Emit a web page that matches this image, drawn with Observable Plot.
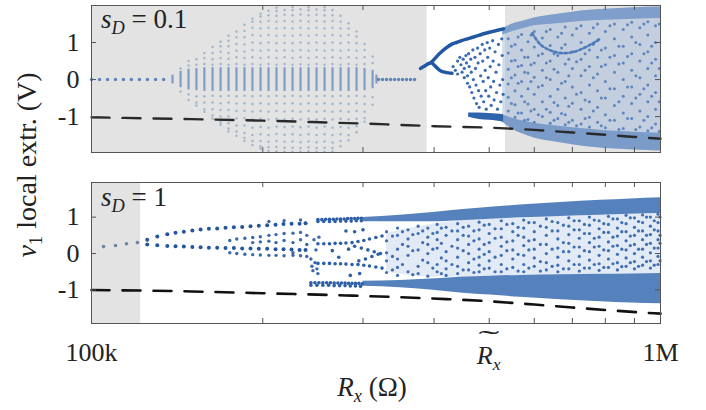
<!DOCTYPE html>
<html><head><meta charset="utf-8">
<script src="https://cdn.jsdelivr.net/npm/d3@7"></script>
<script src="https://cdn.jsdelivr.net/npm/@observablehq/plot@0.6"></script>
<style>
body{margin:0;background:#fff;}
#fig{position:relative;width:706px;height:410px;overflow:hidden;font-family:"Liberation Serif",serif;color:#222;}
#fig svg{position:absolute;left:0;background:transparent;}
.t{position:absolute;white-space:nowrap;line-height:1;}
.sub{font-size:0.68em;position:relative;top:0.32em;}
.tilde{position:relative;display:inline-block;}
.tilde::before{content:"\02DC";position:absolute;left:0;right:0;top:-0.62em;text-align:center;transform:scaleX(2.4);}
</style></head><body><div id="fig"></div>
<script>
// ---------- axes / layout data (x in kΩ, y in V) ----------
const xDomain = [100, 1000];
const xMinorTicks = [200, 300, 400, 500, 600, 700, 800, 900];
const xLabelTicks = [100, 1000];
const xLabelText = ["100k", "1M"];
const yTicks = [-1, 0, 1];
const p1YDomain = [-1.97, 2.0];
const p2YDomain = [-1.92, 1.95];
const p1GrayRegions = [[100, 389], [534, 1000]];
const p2GrayRegions = [[100, 122]];

// ---------- dashed reference curves ----------
const p1DashX = [100, 150, 200, 260, 330, 400, 500, 600, 700, 800, 900, 1000];
const p1DashY = [-1.02, -1.07, -1.11, -1.16, -1.21, -1.26, -1.30, -1.36, -1.43, -1.49, -1.55, -1.60];
const p2DashX = [100, 150, 200, 280, 350, 420, 500, 600, 700, 800, 1000];
const p2DashY = [-1.0, -1.04, -1.09, -1.15, -1.2, -1.25, -1.31, -1.4, -1.48, -1.55, -1.65];

// ---------- panel 1 (s_D = 0.1) ----------
const p1ZeroX = [100.0, 103.3, 106.7, 110.2, 113.8, 117.5, 121.4, 125.4, 129.6, 133.9,
                 319.4, 324.6, 330.0, 335.4, 340.9, 346.4, 352.1, 357.8, 363.6, 369.6];
const p1BarX = [138.8, 143.4, 148.1, 152.9, 157.9, 163.2, 168.6, 174.1, 179.8, 185.7, 191.8, 198.2, 204.7,
                211.4, 218.4, 225.6, 233.0, 240.7, 248.6, 256.8, 265.2, 274.0, 283.0, 292.3, 301.9, 311.9, 316.8];
const p1BarHalf = [0.12, 0.22, 0.28, 0.3, 0.32, 0.32, 0.32, 0.32, 0.32, 0.32, 0.32, 0.32, 0.32,
                   0.32, 0.32, 0.32, 0.32, 0.32, 0.32, 0.32, 0.32, 0.32, 0.32, 0.32, 0.3, 0.25, 0.12];
const p1LensX = [143.4, 148.1, 152.9, 157.9, 163.2, 168.6, 174.1, 179.8, 185.7, 191.8, 198.2, 204.7,
                 211.4, 218.4, 225.6, 233.0, 240.7, 248.6, 256.8, 265.2, 274.0, 283.0, 292.3, 301.9, 311.9];
const p1LensY = [
  [0.3, -0.32],
  [0.38, 0.5, -0.4, -0.55],
  [0.4, 0.55, -0.45, -0.62, -0.7],
  [0.42, 0.58, 0.72, -0.45, -0.62, -0.8, -0.87],
  [0.4, 0.55, 0.72, 0.88, -0.44, -0.62, -0.8, -0.97, -1.05],
  [0.42, 0.58, 0.75, 0.9, 1.02, -0.45, -0.64, -0.82, -1.0, -1.15, -1.22],
  [0.4, 0.56, 0.72, 0.9, 1.05, 1.18, -0.44, -0.62, -0.82, -1.0, -1.18, -1.32, -1.4],
  [0.42, 0.6, 0.78, 0.96, 1.14, 1.3, -0.45, -0.65, -0.85, -1.05, -1.24, -1.4, -1.52],
  [0.4, 0.58, 0.76, 0.95, 1.14, 1.32, 1.48, -0.44, -0.64, -0.84, -1.04, -1.24, -1.44, -1.58, -1.66],
  [0.42, 0.6, 0.8, 1.0, 1.2, 1.4, 1.56, 1.64, -0.45, -0.66, -0.86, -1.08, -1.3, -1.5, -1.66, -1.77],
  [0.4, 0.58, 0.78, 0.98, 1.18, 1.38, 1.56, 1.7, 1.78, -0.44, -0.64, -0.85, -1.06, -1.28, -1.48, -1.66, -1.8, -1.87],
  [0.42, 0.6, 0.8, 1.0, 1.2, 1.4, 1.58, 1.74, 1.86, -0.45, -0.66, -0.87, -1.08, -1.3, -1.5, -1.68, -1.83, -1.93],
  [0.4, 0.58, 0.78, 0.98, 1.18, 1.38, 1.56, 1.72, 1.85, 1.94, -0.44, -0.64, -0.85, -1.06, -1.27, -1.47, -1.66, -1.82, -1.94],
  [0.42, 0.6, 0.79, 0.99, 1.19, 1.39, 1.58, 1.75, 1.88, -0.45, -0.65, -0.86, -1.07, -1.28, -1.49, -1.68, -1.84, -1.95],
  [0.4, 0.58, 0.78, 0.98, 1.18, 1.38, 1.57, 1.74, 1.88, 1.96, -0.44, -0.64, -0.85, -1.06, -1.27, -1.48, -1.67, -1.84, -1.95],
  [0.41, 0.6, 0.8, 1.0, 1.2, 1.4, 1.59, 1.76, 1.9, -0.45, -0.66, -0.87, -1.08, -1.29, -1.5, -1.69, -1.85, -1.95],
  [0.4, 0.58, 0.78, 0.98, 1.18, 1.38, 1.57, 1.74, 1.87, 1.95, -0.44, -0.64, -0.85, -1.06, -1.27, -1.48, -1.67, -1.83, -1.94],
  [0.42, 0.6, 0.8, 1.0, 1.2, 1.4, 1.58, 1.75, 1.89, -0.45, -0.66, -0.87, -1.08, -1.3, -1.5, -1.69, -1.85, -1.95],
  [0.4, 0.58, 0.78, 0.98, 1.18, 1.38, 1.57, 1.73, 1.87, 1.95, -0.44, -0.64, -0.85, -1.06, -1.27, -1.48, -1.67, -1.84, -1.95],
  [0.42, 0.6, 0.8, 1.0, 1.2, 1.4, 1.58, 1.74, 1.88, -0.45, -0.66, -0.87, -1.08, -1.3, -1.5, -1.7, -1.85, -1.94],
  [0.4, 0.58, 0.78, 0.98, 1.18, 1.38, 1.56, 1.72, -0.44, -0.64, -0.85, -1.06, -1.28, -1.48, -1.66, -1.8],
  [0.42, 0.6, 0.8, 1.0, 1.2, 1.38, 1.52, -0.45, -0.66, -0.87, -1.08, -1.3, -1.5, -1.64],
  [0.4, 0.58, 0.78, 0.98, 1.16, 1.3, -0.44, -0.64, -0.85, -1.06, -1.26, -1.42],
  [0.42, 0.6, 0.8, 0.96, -0.45, -0.66, -0.87, -1.04, -1.14],
  [0.45, 0.62, -0.48, -0.68]
];
const p1ArmUpperX = [378.6, 383.6, 388.0, 392.6, 395.8, 404.1, 412.2, 420.7, 429.2, 438.0, 446.9, 457.9, 469.3, 480.8, 492.6, 504.6, 517.1, 529.8];
const p1ArmUpperY = [0.3, 0.35, 0.4, 0.44, 0.47, 0.62, 0.75, 0.86, 0.95, 1.0, 1.05, 1.1, 1.15, 1.2, 1.25, 1.29, 1.33, 1.37];
const p1ArmLowerX = [395.8, 400.8, 405.8, 410.5, 417.4, 424.3, 430.0];
const p1ArmLowerY = [0.47, 0.38, 0.3, 0.24, 0.2, 0.18, 0.17];
const p1WhiteScatter = [[432,0.35],[436,0.25],[440,0.5],[440,0.15],[444,0.6],[446,0.4],[448,0.2],[450,0.55],[452,0.3],[452,0.05],
  [455,0.65],[456,0.45],[458,0.1],[458,-0.1],[460,0.7],[461,0.35],[462,-0.2],[464,0.55],[465,0.2],[466,-0.35],[468,0.8],[469,0.0],
  [470,-0.5],[472,0.6],[473,0.3],[474,-0.15],[475,-0.65],[477,0.85],[478,0.45],[479,-0.3],[480,-0.75],[482,0.7],[483,0.1],[484,-0.45],
  [486,0.95],[487,0.5],[488,-0.05],[489,-0.6],[491,0.8],[492,0.25],[493,-0.3],[494,-0.8],[496,1.0],[497,0.6],[498,0.05],[499,-0.45],
  [501,0.85],[502,0.35],[503,-0.2],[504,-0.7],[507,1.05],[508,0.5],[509,-0.05],[510,-0.55],[512,0.75],[514,0.2],[515,-0.35],[517,-0.8],
  [519,0.95],[520,0.4],[522,-0.15],[524,-0.6],[526,1.1],[527,0.65],[528,0.0],[529,-0.4]];
const p1BlobX = [460, 480, 500, 515, 530];
const p1BlobTop = [-0.9, -0.9, -0.92, -0.93, -0.95];
const p1BlobBottom = [-1.02, -1.08, -1.1, -1.12, -1.15];
const p1EnvX = [528, 550, 575, 600, 650, 700, 750, 800, 900, 1000];
const p1EnvTop = [1.37, 1.5, 1.58, 1.66, 1.75, 1.82, 1.87, 1.9, 1.94, 1.96];
const p1EnvBottom = [-1.15, -1.35, -1.48, -1.58, -1.68, -1.76, -1.82, -1.86, -1.9, -1.93];
const p1EnvTopInner = [1.2, 1.3, 1.38, 1.45, 1.5, 1.55, 1.58, 1.6, 1.63, 1.65];
const p1EnvBottomInner = [-0.95, -1.05, -1.12, -1.18, -1.25, -1.3, -1.34, -1.38, -1.42, -1.45];
const p1ChaosX = [540, 555, 570, 585, 600, 620, 640, 660, 680, 700, 725, 750, 775, 800, 830, 860, 890, 920, 950, 980];
const p1ChaosY = [
  [1.1, 0.72, 0.28, -0.12, -0.48, -0.85], [0.95, 0.52, 0.12, -0.3, -0.68, -1.02],
  [1.22, 0.8, 0.38, -0.05, -0.45, -0.9], [1.02, 0.6, 0.18, -0.25, -0.66, -1.08],
  [1.3, 0.88, 0.45, 0.06, -0.4, -0.8, -1.15], [1.12, 0.7, 0.25, -0.16, -0.6, -1.0],
  [1.35, 0.92, 0.5, 0.0, -0.45, -0.88, -1.18], [1.15, 0.65, 0.2, -0.26, -0.7, -1.05],
  [1.42, 0.95, 0.42, -0.05, -0.5, -0.95, -1.22], [1.2, 0.75, 0.3, -0.2, -0.64, -1.1],
  [1.45, 1.0, 0.55, 0.1, -0.35, -0.8, -1.2], [1.25, 0.8, 0.35, -0.15, -0.6, -1.02, -1.28],
  [1.5, 1.05, 0.6, 0.15, -0.3, -0.75, -1.15], [1.3, 0.85, 0.4, -0.05, -0.5, -0.95, -1.3],
  [1.5, 1.1, 0.65, 0.2, -0.25, -0.7, -1.1], [1.35, 0.9, 0.45, 0.0, -0.45, -0.9, -1.32],
  [1.55, 1.15, 0.7, 0.25, -0.2, -0.65, -1.05], [1.4, 0.95, 0.5, 0.05, -0.4, -0.85, -1.28],
  [1.56, 1.2, 0.75, 0.3, -0.15, -0.6, -1.0, -1.38], [1.45, 1.0, 0.55, 0.1, -0.35, -0.8, -1.2]
];
const p1Chaos2X = [547, 562, 577, 592, 610, 630, 650, 670, 690, 712, 737, 762, 787, 815, 845, 875, 905, 935, 965, 995];
const p1Chaos2Y = [
  [0.9, 0.5, 0.05, -0.65], [1.15, 0.35, -0.1, -0.9], [0.6, 0.2, -0.6, -1.1], [1.2, 0.4, -0.05, -0.85],
  [0.65, -0.2, -0.95], [1.3, 0.45, 0.05, -0.8], [0.7, 0.28, -0.62, -1.1], [1.25, 0.85, -0.1, -0.92],
  [0.55, 0.1, -0.72, -1.15], [1.38, 0.48, -0.4, -1.25], [0.7, 0.25, -0.55, -1.05], [1.4, 0.95, 0.05, -0.85],
  [0.8, 0.35, -0.5, -1.25], [1.45, 0.6, -0.25, -1.1], [0.9, 0.42, -0.6, -1.35], [1.48, 0.62, -0.2, -1.05],
  [1.0, 0.1, -0.5, -1.35], [1.5, 0.7, -0.25, -1.1], [0.9, 0.45, -0.45, -1.3], [1.5, 0.3, -0.6, -1.4]
];
const p1LoopX = [595, 605, 615, 628, 645, 665, 690, 715, 740, 765, 785];
const p1LoopY = [1.25, 1.08, 0.95, 0.85, 0.77, 0.72, 0.72, 0.78, 0.88, 1.0, 1.12];

// ---------- panel 2 (s_D = 1) ----------
const p2SingleX = [105.0, 110.2, 115.2, 120.4];
const p2SingleY = [0.19, 0.22, 0.27, 0.30];
const p2UpperX = [125.3, 130.5, 135.9, 140.5, 145.3, 150.4, 155.5, 160.8, 166.3, 172.0, 177.9, 184.0, 190.3, 196.8, 203.6, 210.6, 217.5, 224.7, 232.1, 237.8];
const p2UpperY = [0.38, 0.47, 0.53, 0.57, 0.6, 0.63, 0.66, 0.68, 0.69, 0.71, 0.72, 0.73, 0.75, 0.76, 0.78, 0.79, 0.81, 0.82, 0.82, 0.83];
const p2LowerY = [0.25, 0.23, 0.21, 0.2, 0.19, 0.18, 0.17, 0.16, 0.16, 0.15, 0.15, 0.14, 0.14, 0.13, 0.13, 0.12, 0.12, 0.11, 0.1, 0.1];
const p2Period4 = [[175,0.36],[175,0.02],[180,0.4],[180,0.0],[186,0.42],[186,-0.02],[192,0.44],[192,-0.03],[192,0.3],
  [198,0.46],[198,-0.04],[198,0.32],[205,0.5],[205,-0.05],[205,0.34],[205,0.88],[211,0.52],[211,-0.05],[211,0.3],
  [218,0.55],[218,-0.06],[218,0.36],[218,0.9],[226,0.56],[226,-0.05],[226,0.3],[226,0.02],[233,0.58],[233,-0.06],
  [233,0.38],[233,0.92],[239,0.5],[239,-0.08],[239,0.25],
  [243,-0.15],[244,-0.35],[245,-0.47],[246,0.38],[247,-0.25],[248,0.1],[249,-0.42],[250,-0.55],[251,0.45]];
const p2BandsEarly = [[250,0.93],[254,0.93],[258,0.94],[262,0.94],[266,0.94],[270,0.95],[274,0.95],[278,0.95],[282,0.96],[286,0.96],[290,0.96],[294,0.97],[298,0.97],
  [250,0.88],[256,0.88],[262,0.88],[268,0.88],[274,0.89],[280,0.89],[286,0.89],[292,0.9],[298,0.9],
  [243,-0.8],[247,-0.8],[251,-0.8],[255,-0.8],[259,-0.8],[263,-0.8],[267,-0.81],[271,-0.81],[275,-0.81],[279,-0.81],[283,-0.82],[287,-0.82],[291,-0.82],[295,-0.82],[299,-0.83],
  [243,-0.87],[249,-0.87],[255,-0.87],[261,-0.87],[267,-0.88],[273,-0.88],[279,-0.88],[285,-0.89],[291,-0.89],[297,-0.9],
  [250,0.27],[256,0.27],[262,0.27],[268,0.28],[274,0.28],[280,0.29],[287,0.3],[294,0.33],[301,0.36],[308,0.4],[316,0.44],[324,0.48],
  [250,-0.27],[256,-0.27],[262,-0.27],[268,-0.28],[274,-0.28],[280,-0.29],[287,-0.3],[294,-0.3],[301,-0.32],[308,-0.34],[316,-0.37],[324,-0.4],
  [290,0.2],[298,0.15],[306,0.1],[314,0.05],[322,0.0],[295,-0.2],[303,-0.15],[311,-0.08],[319,-0.02],
  [280,0.62],[290,0.6],[300,0.65],[285,-0.6],[296,-0.55],[265,0.08],[272,-0.1],[283,0.12]];
const p2TopBandX = [300, 349, 394, 445, 503, 567, 667, 785, 886, 1000];
const p2TopBandTop = [0.99, 1.05, 1.12, 1.2, 1.27, 1.33, 1.4, 1.46, 1.5, 1.53];
const p2TopBandBottom = [0.87, 0.87, 0.87, 0.9, 0.94, 0.98, 1.02, 1.05, 1.08, 1.1];
const p2BotBandX = [300, 349, 394, 445, 503, 567, 667, 785, 886, 1000];
const p2BotBandTop = [-0.76, -0.74, -0.7, -0.65, -0.62, -0.6, -0.58, -0.57, -0.56, -0.55];
const p2BotBandBottom = [-0.9, -0.94, -1.0, -1.08, -1.14, -1.2, -1.27, -1.32, -1.36, -1.38];
const p2MidX = [330, 394, 445, 503, 567, 667, 785, 886, 1000];
const p2MidTop = [0.55, 0.8, 0.9, 0.94, 0.98, 1.02, 1.05, 1.08, 1.1];
const p2MidBottom = [-0.5, -0.65, -0.65, -0.62, -0.6, -0.58, -0.57, -0.56, -0.55];
const p2ChaosX = [330, 345, 360, 375, 390, 405, 420, 440, 460, 480, 500, 525, 550, 575, 600, 630, 660, 690, 720, 750, 780, 810, 840, 870, 900, 930, 960, 990];
const p2ChaosY = [
  [0.6, 0.35, 0.02, -0.2, -0.52], [0.7, 0.5, 0.12, -0.15, -0.38, -0.6], [0.65, 0.4, 0.2, -0.05, -0.5],
  [0.75, 0.55, 0.1, -0.35, -0.55], [0.7, 0.45, 0.25, 0.0, -0.25, -0.62], [0.8, 0.58, 0.38, 0.15, -0.3, -0.5],
  [0.72, 0.5, 0.05, -0.2, -0.42, -0.6], [0.82, 0.62, 0.38, 0.15, -0.1, -0.35, -0.55], [0.75, 0.48, 0.25, 0.0, -0.25, -0.45],
  [0.86, 0.65, 0.4, 0.12, -0.1, -0.32, -0.5], [0.8, 0.55, 0.3, 0.05, -0.2, -0.4], [0.9, 0.68, 0.45, 0.2, -0.05, -0.3, -0.5],
  [0.82, 0.6, 0.35, 0.1, -0.15, -0.38], [0.92, 0.7, 0.45, 0.22, -0.05, -0.3, -0.5], [0.85, 0.6, 0.38, 0.12, -0.12, -0.35],
  [0.95, 0.72, 0.5, 0.25, 0.0, -0.25, -0.45], [0.85, 0.62, 0.4, 0.15, -0.1, -0.32, -0.5], [0.98, 0.75, 0.52, 0.28, 0.05, -0.2, -0.42],
  [0.9, 0.65, 0.42, 0.18, -0.08, -0.3, -0.48], [1.0, 0.78, 0.55, 0.3, 0.05, -0.18, -0.4], [0.9, 0.68, 0.45, 0.2, -0.05, -0.28, -0.46],
  [1.02, 0.8, 0.58, 0.32, 0.08, -0.15, -0.38], [0.95, 0.7, 0.48, 0.22, -0.02, -0.25, -0.45], [1.05, 0.82, 0.6, 0.35, 0.1, -0.12, -0.35],
  [0.98, 0.72, 0.5, 0.25, 0.0, -0.22, -0.42], [1.06, 0.85, 0.62, 0.38, 0.12, -0.1, -0.32], [1.0, 0.75, 0.52, 0.28, 0.02, -0.2, -0.4],
  [1.08, 0.85, 0.62, 0.38, 0.15, -0.08, -0.3]
];
const p2Chaos2X = [338, 352, 367, 382, 398, 412, 430, 450, 470, 490, 512, 537, 562, 587, 615, 645, 675, 705, 735, 765, 795, 825, 855, 885, 915, 945, 975, 998];
const p2Chaos2Y = [
  [0.48, -0.08, -0.45], [0.6, 0.25, -0.3], [0.52, 0.08, -0.58], [0.62, 0.3, -0.18], [0.55, 0.12, -0.4],
  [0.7, 0.28, -0.12, -0.55], [0.62, 0.2, -0.3], [0.72, 0.5, 0.08, -0.45], [0.62, 0.35, -0.15, -0.52], [0.78, 0.25, -0.02, -0.42],
  [0.68, 0.42, -0.1, -0.5], [0.8, 0.32, 0.08, -0.42], [0.72, 0.5, -0.02, -0.48], [0.85, 0.35, 0.1, -0.4], [0.75, 0.25, -0.22, -0.48],
  [0.88, 0.62, 0.12, -0.35], [0.78, 0.3, 0.05, -0.42], [0.9, 0.65, 0.18, -0.3], [0.8, 0.55, 0.08, -0.4], [0.92, 0.42, 0.18, -0.3],
  [0.82, 0.58, 0.1, -0.38], [0.95, 0.45, 0.2, -0.28], [0.85, 0.6, 0.12, -0.36], [0.98, 0.48, 0.22, -0.25], [0.88, 0.62, 0.12, -0.35],
  [1.0, 0.5, 0.25, -0.22], [0.9, 0.65, 0.15, -0.32], [1.0, 0.5, 0.28, -0.2]
];

// ---------- build tables ----------
const zip = (xs, ys) => xs.map((x, i) => ({x, y: ys[i]}));
const cols = (xs, yss) => xs.flatMap((x, i) => yss[i].map(y => ({x, y})));
const pairs = (ps) => ps.map(([x, y]) => ({x, y}));
const band = (xs, a, b) => xs.map((x, i) => ({x, y1: a[i], y2: b[i]}));

const W = 706, ML = 91, MR = 46;
const innerW = W - ML - MR;
const font = "Liberation Serif";

function frameMarks(yDomain, gray, innerH) {
  return {
    under: [Plot.rect(gray, {x1: d => d[0], x2: d => d[1], y1: yDomain[0], y2: yDomain[1], fill: "#e3e3e3"})],
    over: [
      Plot.tickX(xMinorTicks, {x: d => d, insetBottom: innerH - 5, stroke: "#555"}),
      Plot.tickX(xMinorTicks, {x: d => d, insetTop: innerH - 5, stroke: "#555"}),
      Plot.tickY(yTicks, {y: d => d, insetRight: innerW - 5, stroke: "#555"}),
      Plot.tickY(yTicks, {y: d => d, insetLeft: innerW - 5, stroke: "#555"}),
      Plot.axisY(yTicks, {tickSize: 0, tickPadding: 12, fontSize: 26, label: null, tickFormat: d => d < 0 ? "-" + Math.abs(d) : String(d)}),
      Plot.frame({stroke: "#555", strokeWidth: 1})
    ]
  };
}

// Panel 1
const h1 = 160, mt1 = 5, mb1 = 8;
const f1 = frameMarks(p1YDomain, p1GrayRegions, h1 - mt1 - mb1);
const plot1 = Plot.plot({
  width: W, height: h1, marginLeft: ML, marginRight: MR, marginTop: mt1, marginBottom: mb1,
  x: {type: "log", domain: xDomain, axis: null, label: null},
  y: {domain: p1YDomain, label: null},
  style: {fontFamily: font, background: "transparent", color: "#222"},
  marks: [
    ...f1.under,
    Plot.areaY(band(p1EnvX, p1EnvTop, p1EnvBottom), {x: "x", y1: "y1", y2: "y2", fill: "#a9bedb", fillOpacity: 0.55, curve: "monotone-x"}),
    Plot.areaY(band(p1EnvX, p1EnvTop, p1EnvTopInner), {x: "x", y1: "y1", y2: "y2", fill: "#6e92c5", fillOpacity: 0.8, curve: "monotone-x"}),
    Plot.areaY(band(p1EnvX, p1EnvBottomInner, p1EnvBottom), {x: "x", y1: "y1", y2: "y2", fill: "#6e92c5", fillOpacity: 0.85, curve: "monotone-x"}),
    Plot.areaY(band(p1BlobX, p1BlobTop, p1BlobBottom), {x: "x", y1: "y1", y2: "y2", fill: "#2f64ab", curve: "monotone-x"}),
    Plot.ruleX(p1BarX.map((x, i) => ({x, y1: -p1BarHalf[i], y2: p1BarHalf[i]})), {x: "x", y1: "y1", y2: "y2", stroke: "#7f9dc6", strokeWidth: 2.2}),
    Plot.dot(cols(p1LensX, p1LensY), {x: "x", y: "y", r: 1.25, fill: "#a3b5cd", stroke: null}),
    Plot.dot(zip(p1ZeroX, p1ZeroX.map(() => 0)), {x: "x", y: "y", r: 1.7, fill: "#5f83b6", stroke: null}),
    Plot.dot(cols(p1ChaosX, p1ChaosY), {x: "x", y: "y", r: 1.5, fill: "#5f86bf", stroke: null}),
    Plot.dot(cols(p1Chaos2X, p1Chaos2Y), {x: "x", y: "y", r: 1.5, fill: "#5f86bf", stroke: null}),
    Plot.line(zip(p1LoopX, p1LoopY), {x: "x", y: "y", stroke: "#4f7bb9", strokeWidth: 2.6, strokeDasharray: "2.5,2.5", curve: "natural"}),
    Plot.dot(pairs(p1WhiteScatter), {x: "x", y: "y", r: 1.6, fill: "#3a6cb0", stroke: null}),
    Plot.line(zip(p1ArmUpperX, p1ArmUpperY), {x: "x", y: "y", stroke: "#2257a3", strokeWidth: 3.5, curve: "natural"}),
    Plot.line(zip(p1ArmLowerX, p1ArmLowerY), {x: "x", y: "y", stroke: "#2257a3", strokeWidth: 3.5, curve: "natural"}),
    Plot.line(zip(p1DashX, p1DashY), {x: "x", y: "y", stroke: "#2a2a2a", strokeWidth: 2.4, strokeDasharray: "18,13", curve: "monotone-x"}),
    ...f1.over
  ]
});

// Panel 2
const top2 = 175, h2 = 235, mt2 = 7, mb2 = 87;
const f2 = frameMarks(p2YDomain, p2GrayRegions, h2 - mt2 - mb2);
const plot2 = Plot.plot({
  width: W, height: h2, marginLeft: ML, marginRight: MR, marginTop: mt2, marginBottom: mb2,
  x: {type: "log", domain: xDomain, label: null},
  y: {domain: p2YDomain, label: null},
  style: {fontFamily: font, background: "transparent", color: "#222"},
  marks: [
    ...f2.under,
    Plot.areaY(band(p2MidX, p2MidTop, p2MidBottom), {x: "x", y1: "y1", y2: "y2", fill: "#6d96cc", fillOpacity: 0.2, curve: "monotone-x"}),
    Plot.areaY(band(p2TopBandX, p2TopBandTop, p2TopBandBottom), {x: "x", y1: "y1", y2: "y2", fill: "#3d6fb4", fillOpacity: 0.88, curve: "monotone-x"}),
    Plot.areaY(band(p2BotBandX, p2BotBandTop, p2BotBandBottom), {x: "x", y1: "y1", y2: "y2", fill: "#3d6fb4", fillOpacity: 0.88, curve: "monotone-x"}),
    Plot.dot(zip(p2SingleX, p2SingleY), {x: "x", y: "y", r: 1.8, fill: "#6d86a8", stroke: null}),
    Plot.dot(zip(p2UpperX, p2UpperY), {x: "x", y: "y", r: 2, fill: "#25569c", stroke: null}),
    Plot.dot(zip(p2UpperX, p2LowerY), {x: "x", y: "y", r: 2, fill: "#25569c", stroke: null}),
    Plot.dot(pairs(p2Period4), {x: "x", y: "y", r: 1.7, fill: "#3a68a8", stroke: null}),
    Plot.dot(pairs(p2BandsEarly), {x: "x", y: "y", r: 1.8, fill: "#2c5fa6", stroke: null}),
    Plot.dot(cols(p2ChaosX, p2ChaosY), {x: "x", y: "y", r: 1.6, fill: "#3f6fb2", stroke: null}),
    Plot.dot(cols(p2Chaos2X, p2Chaos2Y), {x: "x", y: "y", r: 1.6, fill: "#3f6fb2", stroke: null}),
    Plot.line(zip(p2DashX, p2DashY), {x: "x", y: "y", stroke: "#111", strokeWidth: 2.6, strokeDasharray: "18,13", curve: "monotone-x"}),
    ...f2.over,
    Plot.axisX(xLabelTicks, {tickSize: 0, tickPadding: 19, fontSize: 26, label: null, tickFormat: d => xLabelText[xLabelTicks.indexOf(d)]})
  ]
});

const fig = document.getElementById("fig");
plot1.style.top = "0px";
plot2.style.top = top2 + "px";
fig.appendChild(plot1);
fig.appendChild(plot2);

// text overlays (real text, with subscript structure)
const xPx = (k) => ML + innerW * Math.log10(k / xDomain[0]) / Math.log10(xDomain[1] / xDomain[0]);
function addText(html, left, top, size, transform) {
  const d = document.createElement("div");
  d.className = "t";
  d.innerHTML = html;
  d.style.left = left + "px";
  d.style.top = top + "px";
  d.style.fontSize = size + "px";
  d.style.transform = transform || "translate(-50%,-50%)";
  fig.appendChild(d);
}
addText('<i>s</i><span class="sub"><i>D</i></span> = 0.1', 101, 6, 27, "none");
addText('<i>s</i><span class="sub"><i>D</i></span> = 1', 101, 184, 27, "none");
addText('<i>v</i><span class="sub">1</span> local extr. (V)', 27, 165, 28, "translate(-50%,-50%) rotate(-90deg)");
addText('<i>R</i><span class="sub"><i>x</i></span> (Ω)', 372, 387, 27);
addText('<span class="tilde"><i>R</i><span class="sub"><i>x</i></span></span>', xPx(500), 356, 26);
</script></body></html>
